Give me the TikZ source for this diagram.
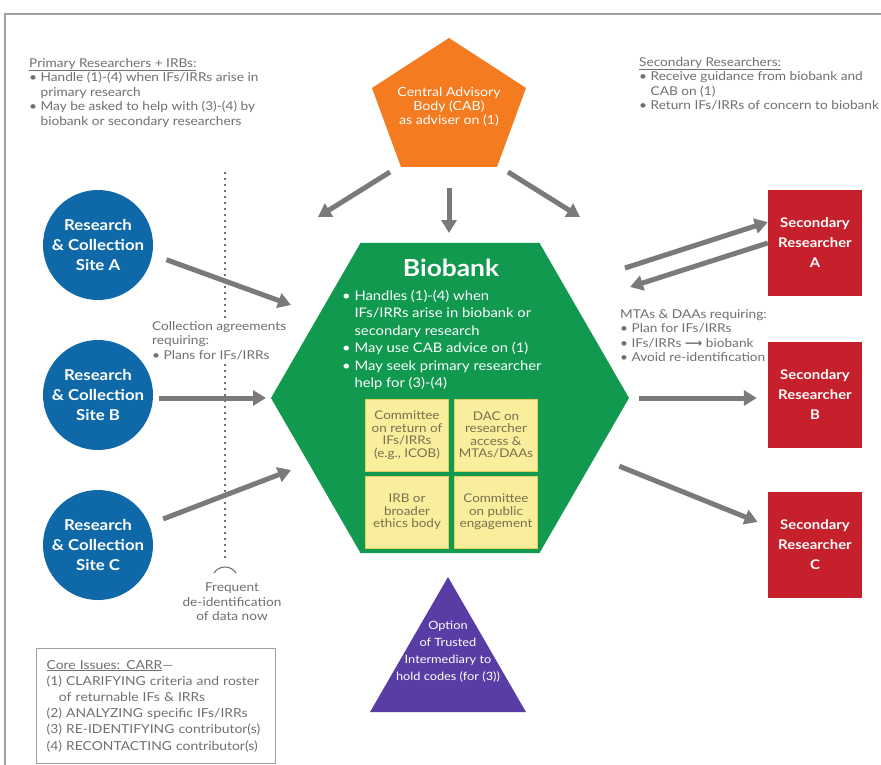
\documentclass[tikz,border=0pt]{standalone}
\usepackage{fontspec}
\setmainfont[FakeStretch=1.12]{Lato}
\newfontfamily\arrowfont{DejaVu Sans}
\usetikzlibrary{shapes.geometric,arrows.meta,calc}

\definecolor{cabor}{HTML}{F47B20}
\definecolor{biogreen}{HTML}{10994F}
\definecolor{siteblue}{HTML}{0F69A8}
\definecolor{secred}{HTML}{C5202B}
\definecolor{tipurple}{HTML}{5A3DA4}
\definecolor{boxyellow}{HTML}{F8EE9C}
\definecolor{boxedge}{HTML}{E2CF5C}
\definecolor{arrowgray}{HTML}{7A7A7A}
\definecolor{txtgray}{HTML}{707070}
\definecolor{framegray}{HTML}{A0A0A0}
\definecolor{boxtext}{HTML}{7A7050}

\newcommand\bul{\textbullet\ }
\newcommand\ind{\phantom{\textbullet\ }}

\tikzset{
  arr/.style={draw=arrowgray, line width=5pt,
    -{Triangle[length=13pt,width=15pt]}},
  note/.style={text=txtgray, align=left, inner sep=0pt,
    font=\fontsize{12.2}{14.5}\selectfont},
  site/.style={circle, fill=siteblue, minimum size=110pt, inner sep=0pt,
    text=white, align=center, font=\bfseries\fontsize{15}{20}\selectfont},
  secbox/.style={rectangle, fill=secred, minimum width=94pt, minimum height=106pt,
    inner sep=0pt, text=white, align=center,
    font=\bfseries\fontsize{13.3}{20}\selectfont},
  cbox/.style={rectangle, fill=boxyellow, draw=boxedge, line width=0.8pt,
    minimum width=83pt, minimum height=72pt, inner sep=0pt, text=boxtext,
    align=center, font=\fontsize{12}{12.5}\selectfont},
}

\begin{document}
\begin{tikzpicture}[x=1pt,y=-1pt]
\useasboundingbox (0,0) rectangle (881,765);
\fill[white] (0,0) rectangle (881,765);
% outer frame
\draw[framegray, line width=1.5pt] (5,770) -- (5,14) -- (886,14);

% dotted divider on the primary-research side
\draw[txtgray, line width=1.2pt, dash pattern=on 2pt off 4pt] (225,172) -- (225,560);
\draw[txtgray, line width=1.1pt] (214,573) .. controls (219,565) and (231,565) .. (236,573);

% central advisory body
\fill[cabor] (449,38) -- (526,88) -- (497,167) -- (401,167) -- (372,88) -- cycle;
\node[text=white, align=center, inner sep=0pt, font=\fontsize{12.6}{14}\selectfont]
  (cab) at (449,107) {Central Advisory\\Body (CAB)\\as adviser on (1)};

% biobank hexagon
\node[regular polygon, regular polygon sides=6, minimum size=358pt, inner sep=0pt,
  outer sep=0pt, fill=biogreen] (bio) at (450,398) {};
\node[text=white, inner sep=0pt, font=\bfseries\fontsize{23.5}{26}\selectfont]
  (biotitle) at (451,268) {Biobank};
\node[text=white, align=left, inner sep=0pt, anchor=north west,
  font=\fontsize{13.2}{17.5}\selectfont] (biotext) at (342,290)
  {\bul Handles (1)-(4) when\\
   \ind IFs/IRRs arise in biobank or\\
   \ind secondary research\\
   \bul May use CAB advice on (1)\\
   \bul May seek primary researcher\\
   \ind help for (3)-(4)};

% committees inside the biobank
\node[cbox] (icob) at (407,435) {Committee\\on return of\\IFs/IRRs\\(e.g., ICOB)};
\node[cbox] (dac)  at (496,435) {DAC on\\researcher\\access \&\\MTAs/DAAs};
\node[cbox] (irb)  at (407,512) {IRB or\\broader\\ethics body};
\node[cbox] (pub)  at (496,512) {Committee\\on public\\engagement};

% trusted intermediary
\node[regular polygon, regular polygon sides=3, minimum size=180pt, inner sep=0pt,
  outer sep=0pt, fill=tipurple] (ti) at (448,667) {};
\node[text=white, align=center, inner sep=0pt, font=\fontsize{11.4}{17}\selectfont]
  (titext) at (448,652) {Option\\of Trusted\\Intermediary to\\hold codes (for (3))};

% collection sites
\node[site] (siteA) at (98,245) {Research\\\& Collection\\Site A};
\node[site] (siteB) at (98,395) {Research\\\& Collection\\Site B};
\node[site] (siteC) at (98,545) {Research\\\& Collection\\Site C};

% secondary researchers
\node[secbox] (secA) at (815,243) {Secondary\\Researcher\\A};
\node[secbox] (secB) at (815,395) {Secondary\\Researcher\\B};
\node[secbox] (secC) at (815,545) {Secondary\\Researcher\\C};

% free ends of the advisory arrows
\coordinate (cabL) at (390,172);
\coordinate (cabLend) at (318,217);
\coordinate (cabD) at (449,188);
\coordinate (cabDend) at (449,233);
\coordinate (cabR) at (508,172);
\coordinate (cabRend) at (580,217);
\draw[arr] (cabL) -- (cabLend);
\draw[arr] (cabD) -- (cabDend);
\draw[arr] (cabR) -- (cabRend);

% sites to biobank
\coordinate (inA) at (291,305);
\coordinate (inB) at (266,398);
\coordinate (inC) at (291,470);
\draw[arr, shorten <=15pt] (siteA.-10) -- (inA);
\draw[arr, shorten <=6pt] (siteB.east |- inB) -- (inB);
\draw[arr, shorten <=15pt] (siteC.22) -- (inC);

% biobank to and from secondary researchers
\coordinate (outA) at (625,268);
\coordinate (backA) at (630,287);
\draw[arr] (outA) -- ([yshift=21pt]secA.west);
\draw[arr] (secA.west) -- (backA);
\draw[arr] ([xshift=10pt]bio.east) -- ([xshift=-11pt]bio.east -| secB.west);
\draw[arr, shorten <=26pt, shorten >=11pt] (bio) -- (secC);

% side notes
\node[note, anchor=north west] (primnote) at (29,58)
  {\underline{Primary Researchers + IRBs:}\\
   \bul Handle (1)-(4) when IFs/IRRs arise in\\
   \ind primary research\\
   \bul May be asked to help with (3)-(4) by\\
   \ind biobank or secondary researchers};
\node[note, anchor=north west] (secnote) at (639,57)
  {\underline{Secondary Researchers:}\\
   \bul Receive guidance from biobank and\\
   \ind CAB on (1)\\
   \bul Return IFs/IRRs of concern to biobank};
\node[note, anchor=north west, fill=white, inner ysep=3pt] (collnote) at (152,318)
  {Collection agreements\\
   requiring:\\
   \bul Plans for IFs/IRRs};
\node[note, anchor=north west] (mtanote) at (620,309)
  {MTAs \& DAAs requiring:\\
   \bul Plan for IFs/IRRs\\
   \bul IFs/IRRs {\arrowfont\bfseries ⟶} biobank\\
   \bul Avoid re-identification};
\node[note, align=center] (deid) at (232,602)
  {Frequent\\de-identification\\of data now};

% core issues legend
\node[note, draw=framegray, line width=1.2pt, anchor=north west, inner xsep=10pt,
  inner ysep=6pt, text width=219pt, minimum height=115pt,
  font=\fontsize{12.4}{16.2}\selectfont] (core) at (36,648)
  {\underline{Core Issues: CARR}—\\
   (1) CLARIFYING criteria and roster\\
   \hspace*{1em}of returnable IFs \& IRRs\\
   (2) ANALYZING specific IFs/IRRs\\
   (3) RE-IDENTIFYING contributor(s)\\
   (4) RECONTACTING contributor(s)};
\end{tikzpicture}
\end{document}
